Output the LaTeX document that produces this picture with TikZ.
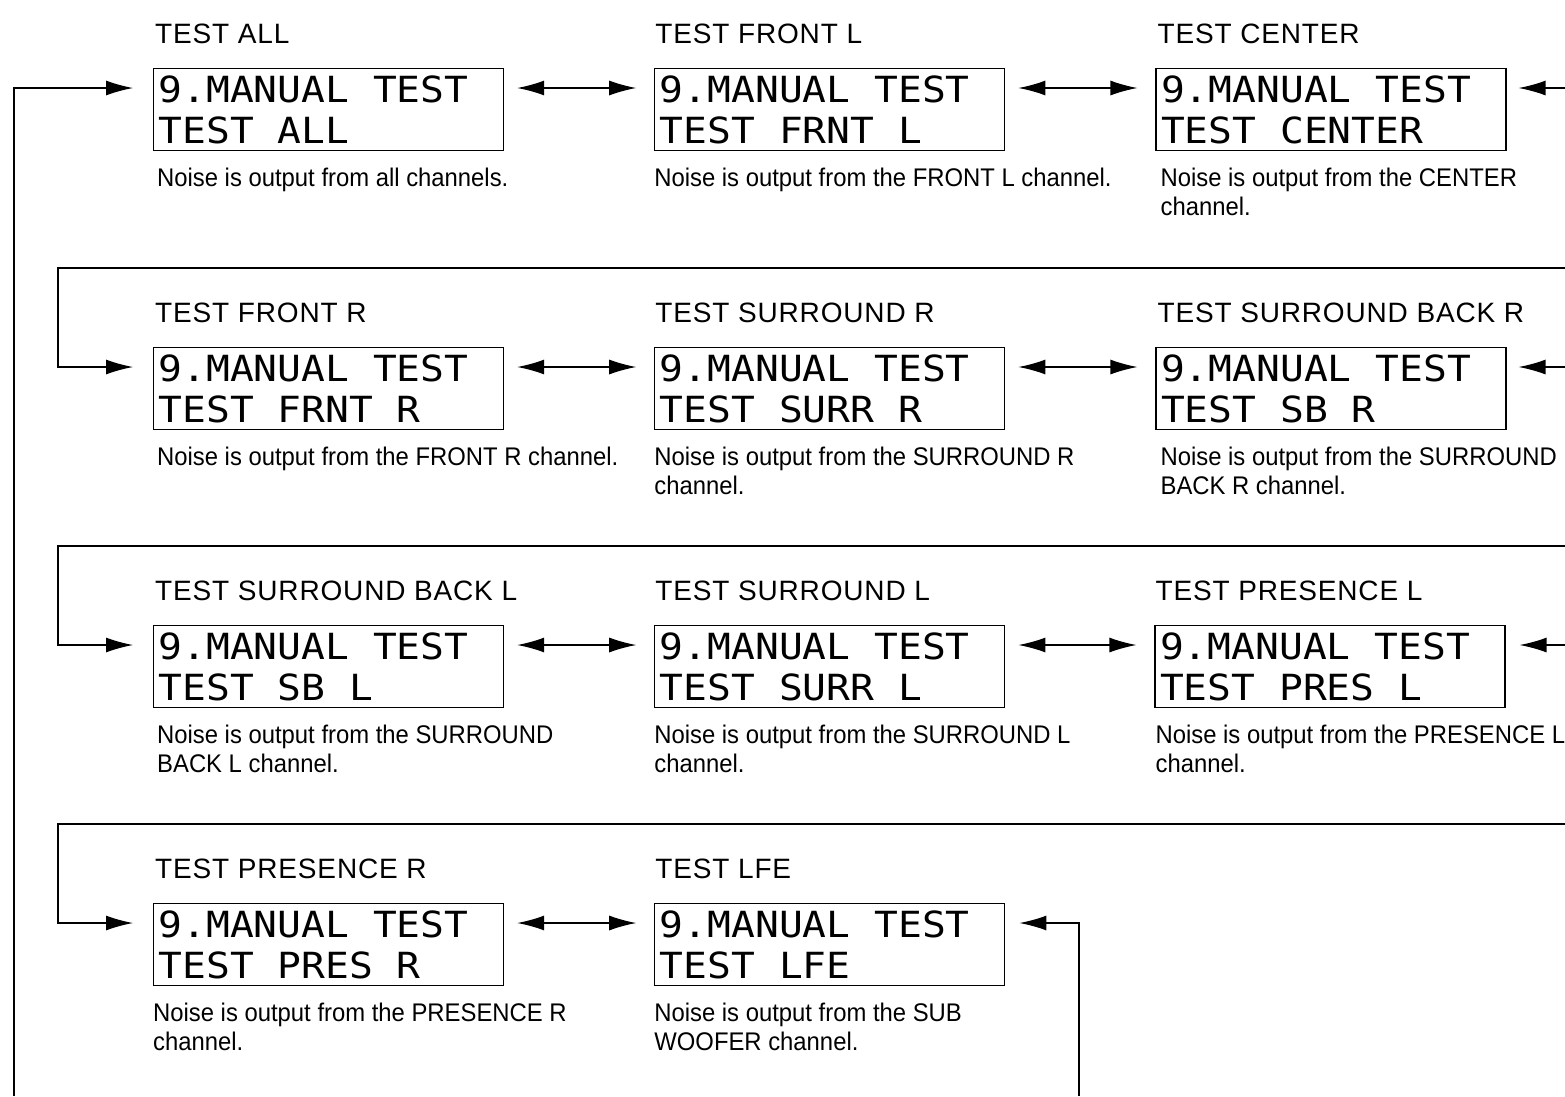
\documentclass[tikz,border=0pt]{standalone}
\usepackage{fontspec}
\setmainfont{Liberation Sans}
\newfontfamily\lcdfont[FakeStretch=1.1]{DejaVu Sans Mono}
\newfontfamily\titlefont[LetterSpace=3]{Liberation Sans}
\newfontfamily\notefont[FakeStretch=0.935]{Liberation Sans}
% one character cell of the display
\newcommand\cell{\hspace*{23.84pt}}
\usetikzlibrary{arrows.meta, positioning}

\begin{document}
\begin{tikzpicture}[
    x=1pt, y=-1pt,
    lcd/.style={
        rectangle, draw=black, line width=1.2pt, fill=white,
        minimum width=350pt, minimum height=82pt, inner sep=5pt,
        text width=340pt, align=left, anchor=north west,
        font=\lcdfont\fontsize{36}{41}\selectfont
    },
    title/.style={
        inner sep=0pt, anchor=base west,
        font=\titlefont\fontsize{28}{30}\selectfont
    },
    note/.style={
        inner sep=0pt, anchor=north west, align=left,
        font=\notefont\fontsize{25.5}{29}\selectfont
    },
    arrow/.style={
        -{Latex[length=27pt,width=15pt]}, line width=1.3pt, draw=black
    },
    biarrow/.style={
        {Latex[length=27pt,width=15pt]}-{Latex[length=27pt,width=15pt]}, line width=1.3pt, draw=black
    }
]
    \useasboundingbox (0,0) rectangle (1565,1096);

    % =========================================================================
    % ROW 1: ALL / FRONT L / CENTER
    % =========================================================================
    \node [lcd] (lcd_all) at (153,68) {9.MANUAL\cell TEST\\TEST\cell ALL};
    \node [lcd, right=150pt of lcd_all] (lcd_frontl) {9.MANUAL\cell TEST\\TEST\cell FRNT\cell L};
    \node [lcd, right=150pt of lcd_frontl] (lcd_center) {9.MANUAL\cell TEST\\TEST\cell CENTER};

    \node [title] (ttl_all) at ([xshift=2pt,yshift=25pt]lcd_all.north west) {TEST ALL};
    \node [title] (ttl_frontl) at ([xshift=1pt,yshift=25pt]lcd_frontl.north west) {TEST FRONT L};
    \node [title] (ttl_center) at ([xshift=2pt,yshift=25pt]lcd_center.north west) {TEST CENTER};

    \node [note] (note_all) at ([xshift=4pt,yshift=-17pt]lcd_all.south west) {Noise is output from all channels.};
    \node [note] (note_frontl) at ([xshift=0pt,yshift=-17pt]lcd_frontl.south west) {Noise is output from the FRONT L channel.};
    \node [note] (note_center) at ([xshift=5pt,yshift=-17pt]lcd_center.south west) {Noise is output from the CENTER\\channel.};

    % =========================================================================
    % ROW 2: FRONT R / SURROUND R / SURROUND BACK R
    % =========================================================================
    \node [lcd] (lcd_frontr) at (153,347) {9.MANUAL\cell TEST\\TEST\cell FRNT\cell R};
    \node [lcd, right=150pt of lcd_frontr] (lcd_surrr) {9.MANUAL\cell TEST\\TEST\cell SURR\cell R};
    \node [lcd, right=150pt of lcd_surrr] (lcd_sbr) {9.MANUAL\cell TEST\\TEST\cell SB\cell R};

    \node [title] (ttl_frontr) at ([xshift=2pt,yshift=25pt]lcd_frontr.north west) {TEST FRONT R};
    \node [title] (ttl_surrr) at ([xshift=1pt,yshift=25pt]lcd_surrr.north west) {TEST SURROUND R};
    \node [title] (ttl_sbr) at ([xshift=2pt,yshift=25pt]lcd_sbr.north west) {TEST SURROUND BACK R};

    \node [note] (note_frontr) at ([xshift=4pt,yshift=-17pt]lcd_frontr.south west) {Noise is output from the FRONT R channel.};
    \node [note] (note_surrr) at ([xshift=0pt,yshift=-17pt]lcd_surrr.south west) {Noise is output from the SURROUND R\\channel.};
    \node [note] (note_sbr) at ([xshift=5pt,yshift=-17pt]lcd_sbr.south west) {Noise is output from the SURROUND\\BACK R channel.};

    % =========================================================================
    % ROW 3: SURROUND BACK L / SURROUND L / PRESENCE L
    % =========================================================================
    \node [lcd] (lcd_sbl) at (153,625) {9.MANUAL\cell TEST\\TEST\cell SB\cell L};
    \node [lcd, right=150pt of lcd_sbl] (lcd_surrl) {9.MANUAL\cell TEST\\TEST\cell SURR\cell L};
    \node [lcd, right=149pt of lcd_surrl] (lcd_presl) {9.MANUAL\cell TEST\\TEST\cell PRES\cell L};

    \node [title] (ttl_sbl) at ([xshift=2pt,yshift=25pt]lcd_sbl.north west) {TEST SURROUND BACK L};
    \node [title] (ttl_surrl) at ([xshift=1pt,yshift=25pt]lcd_surrl.north west) {TEST SURROUND L};
    \node [title] (ttl_presl) at ([xshift=1pt,yshift=25pt]lcd_presl.north west) {TEST PRESENCE L};

    \node [note] (note_sbl) at ([xshift=4pt,yshift=-17pt]lcd_sbl.south west) {Noise is output from the SURROUND\\BACK L channel.};
    \node [note] (note_surrl) at ([xshift=0pt,yshift=-17pt]lcd_surrl.south west) {Noise is output from the SURROUND L\\channel.};
    \node [note] (note_presl) at ([xshift=1pt,yshift=-17pt]lcd_presl.south west) {Noise is output from the PRESENCE L\\channel.};

    % =========================================================================
    % ROW 4: PRESENCE R / LFE
    % =========================================================================
    \node [lcd] (lcd_presr) at (153,903) {9.MANUAL\cell TEST\\TEST\cell PRES\cell R};
    \node [lcd, right=150pt of lcd_presr] (lcd_lfe) {9.MANUAL\cell TEST\\TEST\cell LFE};

    \node [title] (ttl_presr) at ([xshift=2pt,yshift=25pt]lcd_presr.north west) {TEST PRESENCE R};
    \node [title] (ttl_lfe) at ([xshift=1pt,yshift=25pt]lcd_lfe.north west) {TEST LFE};

    \node [note] (note_presr) at ([xshift=0pt,yshift=-17pt]lcd_presr.south west) {Noise is output from the PRESENCE R\\channel.};
    \node [note] (note_lfe) at ([xshift=0pt,yshift=-17pt]lcd_lfe.south west) {Noise is output from the SUB\\WOOFER channel.};

    % =========================================================================
    % STEPPING BETWEEN THE SCREENS
    % =========================================================================
    % neighbours in a row
    \draw [biarrow] ([xshift=13pt,yshift=-20pt]lcd_all.north east) -- ([xshift=-18pt,yshift=-20pt]lcd_frontl.north west);
    \draw [biarrow] ([xshift=13pt,yshift=-20pt]lcd_frontl.north east) -- ([xshift=-18pt,yshift=-20pt]lcd_center.north west);
    \draw [biarrow] ([xshift=13pt,yshift=-20pt]lcd_frontr.north east) -- ([xshift=-18pt,yshift=-20pt]lcd_surrr.north west);
    \draw [biarrow] ([xshift=13pt,yshift=-20pt]lcd_surrr.north east) -- ([xshift=-18pt,yshift=-20pt]lcd_sbr.north west);
    \draw [biarrow] ([xshift=13pt,yshift=-20pt]lcd_sbl.north east) -- ([xshift=-18pt,yshift=-20pt]lcd_surrl.north west);
    \draw [biarrow] ([xshift=13pt,yshift=-20pt]lcd_surrl.north east) -- ([xshift=-18pt,yshift=-20pt]lcd_presl.north west);
    \draw [biarrow] ([xshift=13pt,yshift=-20pt]lcd_presr.north east) -- ([xshift=-18pt,yshift=-20pt]lcd_lfe.north west);

    % back into the last screen of a row from the right margin
    \coordinate (back_center) at (1565,88);
    \coordinate (back_sbr) at (1565,367);
    \coordinate (back_presl) at (1565,645);
    \draw [arrow] (back_center) -- ([xshift=12pt,yshift=-20pt]lcd_center.north east);
    \draw [arrow] (back_sbr) -- ([xshift=12pt,yshift=-20pt]lcd_sbr.north east);
    \draw [arrow] (back_presl) -- ([xshift=14pt,yshift=-20pt]lcd_presl.north east);

    % wrap round to the start of the next row
    \coordinate (wrap_2) at (1565,268);
    \coordinate (turn_2) at (58,268);
    \coordinate (wrap_3) at (1565,546);
    \coordinate (turn_3) at (58,546);
    \coordinate (wrap_4) at (1565,824);
    \coordinate (turn_4) at (58,824);
    \draw [arrow] (wrap_2) -- (turn_2) |- ([xshift=-20pt,yshift=-20pt]lcd_frontr.north west);
    \draw [arrow] (wrap_3) -- (turn_3) |- ([xshift=-20pt,yshift=-20pt]lcd_sbl.north west);
    \draw [arrow] (wrap_4) -- (turn_4) |- ([xshift=-20pt,yshift=-20pt]lcd_presr.north west);

    % loop from the bottom edge back to the first and the last screen
    \coordinate (loop_all) at (14,1096);
    \coordinate (loop_lfe) at (1079,1096);
    \draw [arrow] (loop_all) |- ([xshift=-20pt,yshift=-20pt]lcd_all.north west);
    \draw [arrow] (loop_lfe) |- ([xshift=14pt,yshift=-20pt]lcd_lfe.north east);

\end{tikzpicture}
\end{document}
